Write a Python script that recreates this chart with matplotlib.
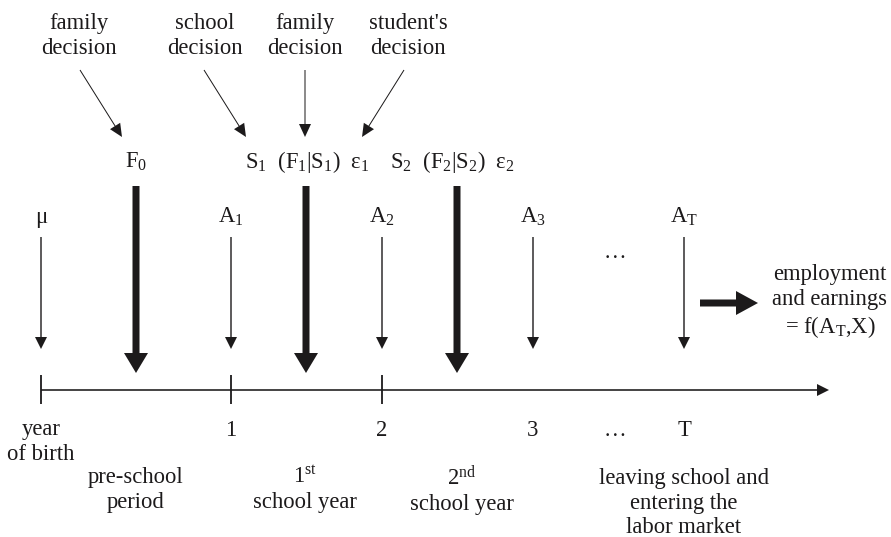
import matplotlib
matplotlib.use("Agg")
import matplotlib.pyplot as plt
from matplotlib.patches import FancyArrow

plt.rcParams['font.family'] = ['Liberation Serif', 'DejaVu Serif']
plt.rcParams['mathtext.fontset'] = 'custom'
plt.rcParams['mathtext.rm'] = 'Liberation Serif'
plt.rcParams['mathtext.it'] = 'Liberation Serif'
plt.rcParams['mathtext.bf'] = 'Liberation Serif'

# ---- content ----
decision_labels = ["family\ndecision", "school\ndecision", "family\ndecision", "student's\ndecision"]
input_labels = ["F$_0$",
                "S$_1$  (F$_1$|S$_1$)  ε$_1$",
                "S$_2$  (F$_2$|S$_2$)  ε$_2$"]
ability_labels = ["μ", "A$_1$", "A$_2$", "A$_3$", "A$_\\mathrm{T}$"]
tick_labels = ["year\nof birth", "1", "2", "3", "T"]
period_labels = ["pre-school\nperiod", "1$^{\\mathrm{st}}$\nschool year", "2$^{\\mathrm{nd}}$\nschool year",
                 "leaving school and\nentering the\nlabor market"]
outcome_label = "employment\nand earnings\n= f(A$_\\mathrm{T}$,X)"

# ---- layout (pixel coordinates) ----
W, H = 891, 537
fig = plt.figure(figsize=(W / 100, H / 100), dpi=100)
ax = fig.add_axes([0, 0, 1, 1])
ax.set_xlim(0, W)
ax.set_ylim(H, 0)
ax.axis('off')
C = '#1c1a1b'
FS = 16.3
LS = 1.22

tick_x = [41, 231, 382, 533, 684]
period_x = [136, 306, 457, 684]
line_y = 390

def arrow(x0, y0, x1, y1, width, hw, hl):
    ax.add_patch(FancyArrow(x0, y0, x1 - x0, y1 - y0, width=width, head_width=hw, head_length=hl,
                            length_includes_head=True, color=C, lw=0))

def txt(x, y, s, **kw):
    ax.text(x, y, s, ha='center', va='center', fontsize=FS, color=C, linespacing=LS, **kw)

# timeline
arrow(41, line_y, 829, line_y, 1.6, 12, 12)
for x in tick_x[:3]:
    ax.plot([x, x], [375, 404], color=C, lw=1.3, solid_capstyle='butt')

# thin vertical ability arrows + labels
for x, lab in zip(tick_x, ability_labels):
    arrow(x, 237, x, 349, 1.4, 12, 12)
    txt(x, 217, lab)
txt(615, 253, "…")

# thick input arrows
for x in period_x[:3]:
    arrow(x, 186, x, 373, 7, 24, 20)

# input labels
txt(136, 162, input_labels[0])
txt(307, 162, input_labels[1])
txt(452, 162, input_labels[2])

# decision labels + arrows
dec_x = [79, 205, 305, 408]
for x, lab in zip(dec_x, decision_labels):
    txt(x, 36, lab)
dec_arrows = [((80, 70), (122, 137)), ((204, 70), (246, 137)), ((305, 70), (305, 137)), ((404, 70), (362, 137))]
for (x0, y0), (x1, y1) in dec_arrows:
    arrow(x0, y0, x1, y1, 1.0, 12, 13)

# outcome arrow + label
arrow(700, 303, 758, 303, 7, 24, 22)
txt(830, 302, outcome_label)

# bottom tick labels
for x, lab in zip(tick_x, tick_labels):
    if "\n" in lab:
        txt(x, 442, lab)
    else:
        txt(x, 430, lab)
txt(615, 431, "…")

# period labels
for x, lab in zip([136, 305, 462], period_labels[:3]):
    txt(x, 490, lab)
txt(684, 503, period_labels[3])

fig.savefig("out.png", dpi=100)
